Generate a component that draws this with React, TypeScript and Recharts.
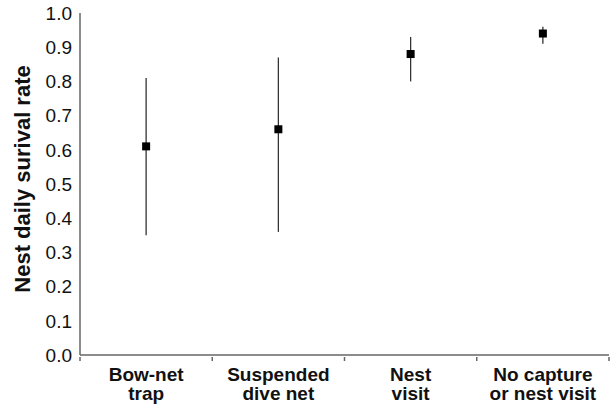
import { ComposedChart, Scatter, ErrorBar, XAxis, YAxis } from "recharts"

const categories = [
  ["Bow-net", "trap"],
  ["Suspended", "dive net"],
  ["Nest", "visit"],
  ["No capture", "or nest visit"],
]
const survival = [0.61, 0.66, 0.88, 0.94]
const lowerCI = [0.35, 0.36, 0.8, 0.91]
const upperCI = [0.81, 0.87, 0.93, 0.96]
const yTicks = [0, 0.1, 0.2, 0.3, 0.4, 0.5, 0.6, 0.7, 0.8, 0.9, 1.0]

const data = categories.map((lines, i) => ({
  name: lines.join(" "),
  lines,
  rate: survival[i],
  err: [survival[i] - lowerCI[i], upperCI[i] - survival[i]],
}))

const font = "'Liberation Sans', Arial, sans-serif"

// category label in two lines, plus the small upward ticks at the band edges
function CategoryTick(props: any) {
  const { x, y, payload, index } = props
  const item = data.find((d) => d.name === payload.value)
  const lines = item ? item.lines : [payload.value]
  const half = payload.offset || 0
  const axisY = y - 2
  return (
    <g>
      <line x1={x + half} x2={x + half} y1={axisY} y2={axisY - 4} stroke="#666" strokeWidth={1.5} />
      {index === 0 && <line x1={x - half} x2={x - half} y1={axisY} y2={axisY - 4} stroke="#666" strokeWidth={1.5} />}
      <text x={x} y={y} textAnchor="middle" fontFamily={font} fontWeight="bold" fontSize={19} fill="#111">
        {lines.map((line: string, i: number) => (
          <tspan key={i} x={x} dy={i === 0 ? 18 : 19}>
            {line}
          </tspan>
        ))}
      </text>
    </g>
  )
}

function SquareDot(props: any) {
  const { cx, cy } = props
  return <rect x={cx - 4} y={cy - 4} width={8} height={8} fill="#000" />
}

export default function App() {
  return (
    <div style={{ position: "absolute", left: 0, top: 0, background: "#fff" }}>
      <ComposedChart width={610} height={406} data={data} margin={{ top: 13, right: 1, bottom: 0, left: 0 }}>
        <XAxis
          dataKey="name"
          type="category"
          scale="band"
          height={51}
          axisLine={{ stroke: "#666", strokeWidth: 1.5 }}
          tickLine={false}
          tick={<CategoryTick />}
          interval={0}
        />
        <YAxis
          type="number"
          domain={[0, 1]}
          ticks={yTicks}
          width={80}
          axisLine={{ stroke: "#666", strokeWidth: 1.5 }}
          tickLine={false}
          tickMargin={2}
          tickFormatter={(v: number) => v.toFixed(1)}
          tick={{ fontFamily: font, fontSize: 19, fill: "#111" }}
          label={{
            value: "Nest daily surival rate",
            angle: -90,
            position: "insideLeft",
            offset: 22,
            dy: -5,
            style: { fontFamily: font, fontSize: 22, fontWeight: "bold", fill: "#111", textAnchor: "middle" },
          }}
        />
        <Scatter dataKey="rate" shape={<SquareDot />} isAnimationActive={false}>
          <ErrorBar dataKey="err" direction="y" width={0} stroke="#333" strokeWidth={1.3} />
        </Scatter>
      </ComposedChart>
    </div>
  )
}
